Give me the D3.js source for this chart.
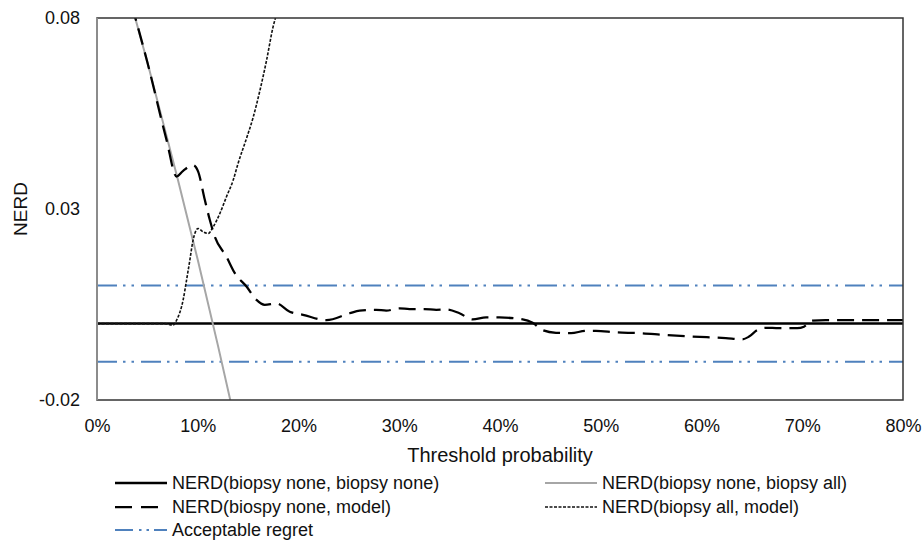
<!DOCTYPE html>
<html><head><meta charset="utf-8">
<script src="https://cdn.jsdelivr.net/npm/d3@7"></script>
<style>
html,body{margin:0;padding:0;background:#fff;}
svg{display:block;font-family:Arial,"Liberation Sans",sans-serif;}
</style></head>
<body><svg id="c" width="922" height="541"></svg>
<script>
// ---- data ----
const xTicks = [0, 0.1, 0.2, 0.3, 0.4, 0.5, 0.6, 0.7, 0.8];
const yTicks = [-0.02, 0.03, 0.08];

const noneNoneT = [0, 0.8];
const noneNoneV = [0, 0];

const noneAllT = [0, 0.03, 0.05, 0.08, 0.10, 0.12, 0.14];
const noneAllV = [0.115, 0.0876, 0.0684, 0.0380, 0.0167, -0.0057, -0.029];

const noneModelT = [0, 0.03, 0.05, 0.069, 0.079, 0.0855, 0.0954, 0.1004, 0.107, 0.112, 0.117, 0.1285, 0.1368, 0.1484, 0.1583, 0.1665, 0.1781, 0.1913, 0.2045, 0.2277, 0.2507, 0.2607, 0.2772, 0.2871, 0.3003, 0.3102, 0.3251, 0.3367, 0.3466, 0.3598, 0.3729, 0.3862, 0.3994, 0.4225, 0.4324, 0.4423, 0.4556, 0.4705, 0.4853, 0.4952, 0.5151, 0.5381, 0.5646, 0.591, 0.6241, 0.6405, 0.6472, 0.6554, 0.6637, 0.6769, 0.695, 0.7017, 0.7099, 0.7232, 0.7463, 0.7827, 0.80];
const noneModelV = [0.115, 0.0876, 0.0684, 0.0481, 0.0385, 0.0400, 0.0415, 0.0398, 0.0324, 0.0271, 0.0227, 0.0175, 0.0132, 0.0097, 0.0062, 0.0049, 0.0053, 0.0031, 0.0023, 0.0009, 0.0027, 0.0034, 0.0036, 0.0034, 0.0040, 0.0038, 0.0038, 0.0036, 0.0037, 0.0027, 0.0011, 0.0016, 0.0016, 0.0011, 0.0002, -0.0017, -0.0024, -0.0025, -0.0019, -0.0019, -0.0023, -0.0025, -0.0030, -0.0034, -0.0038, -0.0041, -0.0034, -0.0017, -0.0011, -0.0012, -0.0012, -0.0008, 0.0008, 0.0009, 0.0009, 0.0009, 0.0009];

const allModelT = [0, 0.0674, 0.0756, 0.079, 0.0855, 0.0889, 0.0922, 0.0954, 0.1004, 0.1054, 0.1103, 0.1153, 0.1219, 0.1285, 0.1351, 0.14, 0.1484, 0.1549, 0.1615, 0.1682, 0.1747, 0.18];
const allModelV = [0, 0, -0.0004, 0.0009, 0.0062, 0.0114, 0.0167, 0.0219, 0.0249, 0.0240, 0.0236, 0.0253, 0.0288, 0.0332, 0.0375, 0.0419, 0.0485, 0.0539, 0.0608, 0.0688, 0.0776, 0.0825];

const regretT = [0, 0.8];
const regretUpper = [0.01, 0.01];
const regretLower = [-0.01, -0.01];

const legendLabels = ["NERD(biopsy none, biopsy none)", "NERD(biopsy none, biopsy all)", "NERD(biospy none, model)", "NERD(biopsy all, model)", "Acceptable regret"];

// ---- drawing ----
const svg = d3.select("#c");
const L = 97, R = 903, T = 18, B = 400;
const x = d3.scaleLinear().domain([0, 0.8]).range([L, R]);
const y = d3.scaleLinear().domain([-0.02, 0.08]).range([B, T]);

svg.append("defs").append("clipPath").attr("id", "clip")
  .append("rect").attr("x", L).attr("y", T).attr("width", R - L).attr("height", B - T);

const zip = (a, b) => a.map((t, i) => [t, b[i]]);

const styles = {
  noneNone: {stroke: "#000", width: 2.5, dash: null},
  noneAll: {stroke: "#a6a6a6", width: 2, dash: null},
  noneModel: {stroke: "#000", width: 2.25, dash: "17,8"},
  allModel: {stroke: "#111", width: 1.6, dash: "3,1.5"},
  regret: {stroke: "#4f81bd", width: 2, dash: "20,6,2.5,6,2.5,7"}
};

const g = svg.append("g").attr("clip-path", "url(#clip)");
function draw(data, st, curve) {
  g.append("path").datum(data)
    .attr("fill", "none").attr("stroke", st.stroke).attr("stroke-width", st.width)
    .attr("stroke-dasharray", st.dash)
    .attr("d", d3.line().x(d => x(d[0])).y(d => y(d[1])).curve(curve || d3.curveLinear));
}
draw(zip(regretT, regretUpper), styles.regret);
draw(zip(regretT, regretLower), styles.regret);
draw(zip(noneNoneT, noneNoneV), styles.noneNone);
draw(zip(noneAllT, noneAllV), styles.noneAll);
draw(zip(allModelT, allModelV), styles.allModel, d3.curveMonotoneX);
draw(zip(noneModelT, noneModelV), styles.noneModel, d3.curveMonotoneX);

// frame
svg.append("rect").attr("x", L).attr("y", T).attr("width", R - L).attr("height", B - T)
  .attr("fill", "none").attr("stroke", "#333").attr("stroke-width", 1.5);
svg.append("line").attr("x1", L).attr("x2", L).attr("y1", T).attr("y2", B)
  .attr("stroke", "#8c8c8c").attr("stroke-width", 2);

// axes
const fmtY = d => d3.format(".2f")(d).replace("\u2212", "-");
const yAxis = d3.axisLeft(y).tickValues(yTicks).tickSize(0).tickPadding(17).tickFormat(fmtY);
const ya = svg.append("g").attr("transform", `translate(${L},0)`).call(yAxis);
ya.select(".domain").remove();
ya.selectAll("text").attr("font-size", 18).attr("fill", "#111").attr("font-family", "Arial, 'Liberation Sans', sans-serif");

const xAxis = d3.axisBottom(x).tickValues(xTicks).tickSize(0).tickPadding(19).tickFormat(d3.format(".0%"));
const xa = svg.append("g").attr("transform", `translate(0,${B})`).call(xAxis);
xa.select(".domain").remove();
xa.selectAll("text").attr("font-size", 18).attr("fill", "#111").attr("font-family", "Arial, 'Liberation Sans', sans-serif");

svg.append("text").attr("x", 500).attr("y", 462).attr("text-anchor", "middle")
  .attr("font-size", 20).attr("fill", "#111").text("Threshold probability");
svg.append("text").attr("transform", "translate(27,209) rotate(-90)").attr("text-anchor", "middle")
  .attr("font-size", 19).attr("fill", "#111").text("NERD");

// legend
const legItems = [
  {label: legendLabels[0], st: styles.noneNone, x: 115, y: 483},
  {label: legendLabels[1], st: styles.noneAll, x: 545, y: 483},
  {label: legendLabels[2], st: styles.noneModel, x: 115, y: 507},
  {label: legendLabels[3], st: styles.allModel, x: 545, y: 507},
  {label: legendLabels[4], st: styles.regret, x: 115, y: 530}
];
legItems.forEach((it, i) => {
  const gg = svg.append("g");
  let dash = it.st.dash;
  if (i === 2) dash = "17,9";
  if (i === 4) dash = "18,6,2.5,5,2.5,5";
  gg.append("line").attr("x1", it.x).attr("x2", it.x + 52).attr("y1", it.y).attr("y2", it.y)
    .attr("stroke", it.st.stroke).attr("stroke-width", it.st.width).attr("stroke-dasharray", dash);
  gg.append("text").attr("x", it.x + 57).attr("y", it.y).attr("dy", "0.35em")
    .attr("font-size", 18).attr("fill", "#111").text(it.label);
});
</script></body></html>
